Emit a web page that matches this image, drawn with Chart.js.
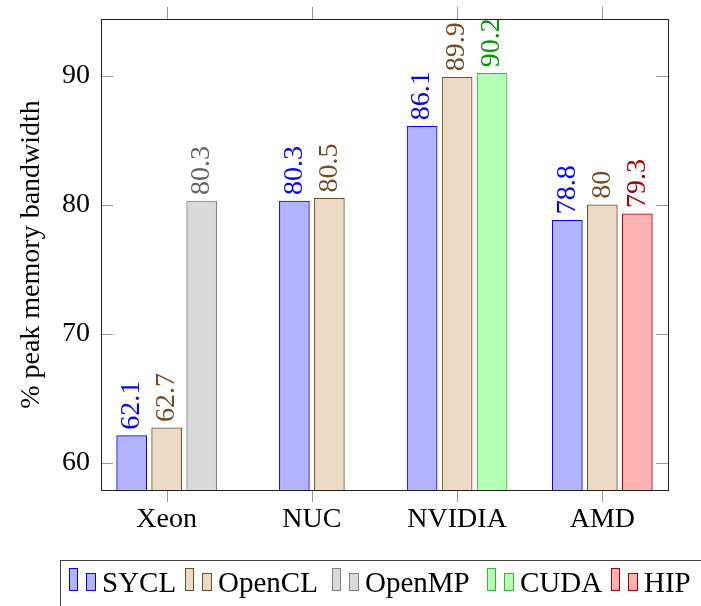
<!DOCTYPE html>
<html>
<head>
<meta charset="utf-8">
<script src="https://cdn.jsdelivr.net/npm/chart.js@4.4.1/dist/chart.umd.min.js"></script>
<style>
html, body { margin: 0; padding: 0; background: #fff; overflow: hidden; }
#wrap { position: relative; width: 701px; height: 606px; }
#legend {
    position: absolute; left: 60px; top: 560px; width: 700px; height: 60px;
    border-left: 1px solid #444; border-top: 1px solid #444;
    font-family: 'Liberation Serif', serif; font-size: 29px; color: #000;
}
.item { position: absolute; top: 6px; height: 24px; display: flex; align-items: flex-end; white-space: nowrap; }
.ic { box-sizing: border-box; border: 1px solid; }
.ic.big { width: 9px; height: 23px; margin-right: 8px; }
.ic.small { width: 10px; height: 18px; margin-right: 6px; }
.item span { line-height: 24px; position: relative; top: 3px; }
</style>
</head>
<body>
<div id="wrap">
    <canvas id="chart" width="701" height="606"></canvas>
    <div id="legend"></div>
</div>
<script>
const categories = ['Xeon', 'NUC', 'NVIDIA', 'AMD'];
const seriesNames = ['SYCL', 'OpenCL', 'OpenMP', 'CUDA', 'HIP'];
const sycl = [62.1, 80.3, 86.1, 78.8];
const opencl = [62.7, 80.5, 89.9, 80];
const openmp = [80.3, null, null, null];
const cuda = [null, null, 90.2, null];
const hip = [null, null, null, 79.3];
const yTicks = [60, 70, 80, 90];

const seriesValues = [sycl, opencl, openmp, cuda, hip];

const styles = [
    { border: '#0000ff', fill: 'rgb(179,179,255)', text: '#0000ff' },
    { border: 'rgb(115,77,38)', fill: 'rgb(236,217,198)', text: 'rgb(115,77,38)' },
    { border: 'rgb(128,128,128)', fill: 'rgb(217,217,217)', text: 'rgb(100,100,100)' },
    { border: 'rgb(50,185,50)', fill: 'rgb(179,255,179)', text: 'rgb(0,150,0)' },
    { border: 'rgb(165,0,0)', fill: 'rgb(255,179,179)', text: 'rgb(165,0,0)' }
];
const legendLeft = [8, 124, 271, 426, 550];

const serif = "'Liberation Serif', serif";

const valueLabels = {
    id: 'valueLabels',
    afterDatasetsDraw(chart) {
        const ctx = chart.ctx;
        chart.data.datasets.forEach((ds, k) => {
            const meta = chart.getDatasetMeta(k);
            meta.data.forEach((bar, i) => {
                const v = ds.data[i].y;
                if (v === null) return;
                ctx.save();
                ctx.translate(bar.x, bar.y - 6);
                ctx.rotate(-Math.PI / 2);
                ctx.font = '28px ' + serif;
                ctx.fillStyle = styles[k].text;
                ctx.textAlign = 'left';
                ctx.textBaseline = 'middle';
                ctx.fillText(String(v), 0, 0);
                ctx.restore();
            });
        });
    }
};

const frame = {
    id: 'frame',
    afterDraw(chart) {
        const ctx = chart.ctx;
        const a = chart.chartArea;
        const xs = chart.scales.x, ys = chart.scales.y;
        ctx.save();
        ctx.lineWidth = 1;
        ctx.strokeStyle = '#999';
        ctx.beginPath();
        categories.forEach((c, i) => {
            const px = Math.round(xs.getPixelForValue(i)) + 0.5;
            ctx.moveTo(px, a.top - 12); ctx.lineTo(px, a.top);
            ctx.moveTo(px, a.bottom); ctx.lineTo(px, a.bottom + 12);
        });
        yTicks.forEach(v => {
            const py = Math.round(ys.getPixelForValue(v)) + 0.5;
            ctx.moveTo(a.left, py); ctx.lineTo(a.left + 12, py);
            ctx.moveTo(a.right - 12, py); ctx.lineTo(a.right, py);
        });
        ctx.stroke();
        ctx.strokeStyle = '#222';
        ctx.strokeRect(Math.round(a.left) + 0.5, Math.round(a.top) + 0.5,
            Math.round(a.right - a.left), Math.round(a.bottom - a.top));
        ctx.restore();
    }
};

const ctx = document.getElementById('chart').getContext('2d');
new Chart(ctx, {
    type: 'bar',
    data: {
        datasets: seriesValues.map((vals, k) => ({
            label: seriesNames[k],
            data: vals.map((v, i) => ({ x: i, y: v })),
            backgroundColor: styles[k].fill,
            borderColor: styles[k].border,
            borderWidth: 1,
            borderSkipped: false,
            skipNull: true,
            barThickness: 35,
            maxBarThickness: 30
        }))
    },
    options: {
        responsive: false,
        animation: false,
        layout: { padding: { left: 0, right: 33, top: 19, bottom: 0 } },
        plugins: { legend: { display: false }, tooltip: { enabled: false } },
        scales: {
            x: {
                type: 'linear',
                min: -0.452,
                max: 3.452,
                offset: false,
                grid: { display: false, drawTicks: false },
                border: { display: false },
                afterBuildTicks: s => { s.ticks = categories.map((c, i) => ({ value: i })); },
                afterFit: s => { s.height = 116; s.paddingLeft = 0; s.paddingRight = 0; },
                ticks: {
                    callback: v => categories[v],
                    font: { family: serif, size: 28 },
                    color: '#000',
                    padding: 13,
                    maxRotation: 0
                }
            },
            y: {
                min: 57.885,
                max: 94.415,
                grid: { display: false, drawTicks: false },
                border: { display: false },
                afterBuildTicks: s => { s.ticks = yTicks.map(v => ({ value: v })); },
                afterFit: s => { s.width = 101; s.paddingTop = 0; s.paddingBottom = 0; },
                ticks: {
                    font: { family: serif, size: 28 },
                    color: '#000',
                    padding: 11
                },
                title: {
                    display: true,
                    text: '% peak memory bandwidth',
                    font: { family: serif, size: 28 },
                    color: '#000',
                    padding: { top: 15, bottom: 0 }
                }
            }
        }
    },
    plugins: [valueLabels, frame]
});

const legend = document.getElementById('legend');
seriesNames.forEach((name, k) => {
    const item = document.createElement('div');
    item.className = 'item';
    item.style.left = legendLeft[k] + 'px';
    const st = styles[k];
    item.innerHTML =
        '<div class="ic big" style="border-color:' + st.border + ';background:' + st.fill + '"></div>' +
        '<div class="ic small" style="border-color:' + st.border + ';background:' + st.fill + '"></div>' +
        '<span>' + name + '</span>';
    legend.appendChild(item);
});
</script>
</body>
</html>
